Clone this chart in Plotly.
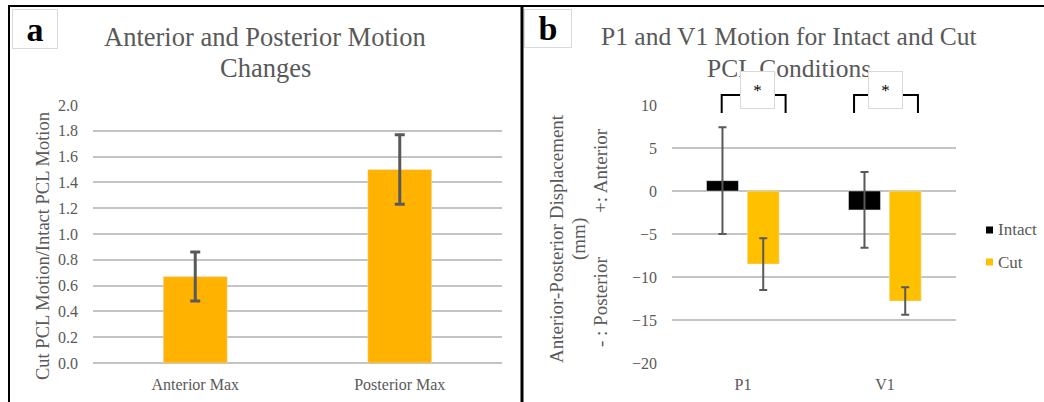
import plotly.graph_objects as go

# ---------------- data ----------------
cats_a = ["Anterior Max", "Posterior Max"]
ratio_vals = [0.67, 1.50]
ratio_err = [0.19, 0.27]

cats_b = ["P1", "V1"]
series_names = ["Intact", "Cut"]
intact_vals = [1.2, -2.2]
intact_err = [6.2, 4.4]
cut_vals = [-8.5, -12.8]
cut_err = [3.0, 1.6]

ticks_a = [0.0, 0.2, 0.4, 0.6, 0.8, 1.0, 1.2, 1.4, 1.6, 1.8, 2.0]
ticks_b = [-20, -15, -10, -5, 0, 5, 10]

title_a = ["Anterior and Posterior Motion", "Changes"]
title_b = ["P1 and V1 Motion for Intact and Cut", "PCL Conditions"]

# ---------------- layout helpers ----------------
W, H = 1044, 402
FONT = "Liberation Serif"
GREY = "#595959"
GRID = "#C4C4C4"
ORANGE_A = "#FFB300"
GOLD_B = "#FFC000"
series_colors = ["#000000", GOLD_B]


def px(x):
    return x / W


def py(y):
    return 1 - y / H


fig = go.Figure()

fig.add_trace(go.Bar(
    x=cats_a, y=ratio_vals, width=0.313, marker_color=ORANGE_A,
    error_y=dict(type="data", array=ratio_err, color=GREY, thickness=3, width=5),
    xaxis="x", yaxis="y", showlegend=False,
))

fig.add_trace(go.Bar(
    x=cats_b, y=intact_vals, name=series_names[0], width=0.225, offset=-0.257,
    marker_color=series_colors[0],
    error_y=dict(type="data", array=intact_err, color=GREY, thickness=2, width=4),
    xaxis="x2", yaxis="y2", showlegend=False,
))
fig.add_trace(go.Bar(
    x=cats_b, y=cut_vals, name=series_names[1], width=0.225, offset=0.03,
    marker_color=series_colors[1],
    error_y=dict(type="data", array=cut_err, color=GREY, thickness=2, width=4),
    xaxis="x2", yaxis="y2", showlegend=False,
))

axis_common = dict(showline=False, ticks="", tickfont=dict(family=FONT, size=16, color=GREY),
                   fixedrange=True)

fig.update_layout(
    width=W, height=H,
    margin=dict(l=0, r=0, t=0, b=0, autoexpand=False),
    paper_bgcolor="white", plot_bgcolor="white",
    barmode="overlay",
    showlegend=False,
    xaxis=dict(domain=[px(93), px(502)], anchor="y", showgrid=False, zeroline=False,
               ticklabelstandoff=10, **axis_common),
    yaxis=dict(domain=[py(363), py(105)], anchor="x", range=[0, 2], tickvals=ticks_a,
               tickformat=".1f", showgrid=True, gridcolor=GRID, gridwidth=2,
               zeroline=True, zerolinecolor=GRID, zerolinewidth=2,
               ticklabelstandoff=14, **axis_common),
    xaxis2=dict(domain=[px(672), px(956)], anchor="y2", showgrid=False, zeroline=False,
                ticklabelstandoff=10, **axis_common),
    yaxis2=dict(domain=[py(363), py(105)], anchor="x2", range=[-20, 10], tickvals=ticks_b,
                showgrid=True, gridcolor=GRID, gridwidth=2,
                zeroline=True, zerolinecolor=GRID, zerolinewidth=2,
                ticklabelstandoff=14, **axis_common),
)

shapes = []
# frame lines
shapes.append(dict(type="line", xref="paper", yref="paper", x0=px(8), x1=1, y0=py(6), y1=py(6),
                   line=dict(color="black", width=2)))
shapes.append(dict(type="line", xref="paper", yref="paper", x0=px(9), x1=px(9), y0=py(6), y1=0,
                   line=dict(color="black", width=2)))
shapes.append(dict(type="line", xref="paper", yref="paper", x0=px(522), x1=px(522), y0=py(6), y1=0,
                   line=dict(color="black", width=3)))

# significance brackets (x as category offsets, y in data units of panel b)
bracket_left = [-0.15, -0.218]
bracket_right = [0.30, 0.232]
bracket_top = 11.16
bracket_bottom = 9.07
ymin_b, ymax_b = -20, 10


def xdom(i, off):
    return (i + 0.5 + off) / len(cats_b)


def ydom(v):
    return (v - ymin_b) / (ymax_b - ymin_b)


for i in range(len(cats_b)):
    xl, xr = xdom(i, bracket_left[i]), xdom(i, bracket_right[i])
    yt, yb = ydom(bracket_top), ydom(bracket_bottom)
    shapes.append(dict(type="path", xref="x2 domain", yref="y2 domain",
                       path=f"M{xl},{yb} L{xl},{yt} L{xr},{yt} L{xr},{yb}",
                       line=dict(color="black", width=2)))

# manual legend swatches
legend_rows = [230, 262]
for name, col, yy in zip(series_names, series_colors, legend_rows):
    shapes.append(dict(type="rect", xref="paper", yref="paper",
                       x0=px(986), x1=px(993), y0=py(yy - 3.5), y1=py(yy + 3.5),
                       fillcolor=col, line=dict(width=0)))
fig.update_layout(shapes=shapes)

ann = []


def text(t, x, y, size, color=GREY, angle=0, family=FONT, **kw):
    d = dict(text=t, xref="paper", yref="paper", x=px(x), y=py(y), showarrow=False,
             xanchor=kw.pop("xanchor", "center"), yanchor="middle", textangle=angle,
             font=dict(family=family, size=size, color=color))
    d.update(kw)
    ann.append(d)


# titles
for line, yy in zip(title_a, [37, 68]):
    text(line, 265, yy, 26.5)
for line, yy in zip(title_b, [37, 68]):
    text(line, 789, yy, 25.5)

# panel labels
text("<b>a</b>", 35, 29, 34, color="black", width=44, height=38, bgcolor="white",
     bordercolor="#D9D9D9", borderwidth=1, borderpad=0)
text("<b>b</b>", 548, 28, 34, color="black", width=46, height=37, bgcolor="white",
     bordercolor="#D9D9D9", borderwidth=1, borderpad=0)

# y-axis titles
text("Cut PCL Motion/Intact PCL Motion", 43, 246, 18.5, angle=-90)
text("Anterior-Posterior Displacement", 556, 239, 19, angle=-90)
text("(mm)", 579, 239, 19, angle=-90)
text("- : Posterior", 600, 302, 19, angle=-90)
text("+: Anterior", 600, 171, 19, angle=-90)

# legend labels
for name, yy in zip(series_names, legend_rows):
    text(name, 996, yy, 17, xanchor="left")

# significance boxes with asterisks
box_center = [0.10, 0.005]
for i in range(len(cats_b)):
    ann.append(dict(text="*", xref="x2 domain", yref="y2 domain",
                    x=xdom(i, box_center[i]), y=ydom(11.75),
                    xanchor="center", yanchor="middle",
                    showarrow=False, width=33, height=36, bgcolor="white",
                    bordercolor="#D9D9D9", borderwidth=1, borderpad=0,
                    font=dict(family=FONT, size=17, color="black")))

fig.update_layout(annotations=ann)

fig.write_html(
    "out.html",
    config={"displayModeBar": False, "staticPlot": True},
    post_script="document.body.style.margin='0px';document.body.style.overflow='hidden';",
)
